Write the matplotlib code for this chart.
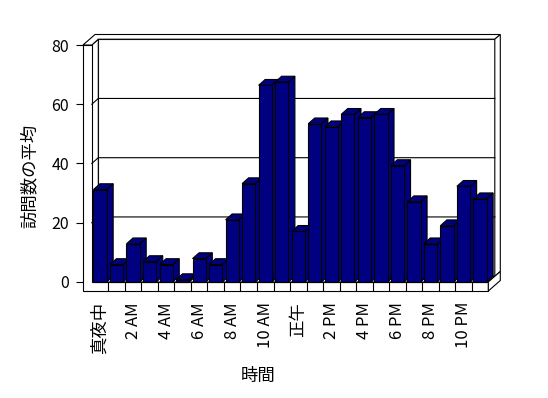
import matplotlib
matplotlib.use('Agg')
import matplotlib.pyplot as plt
from matplotlib.patches import Polygon

plt.rcParams['font.family'] = ['Noto Sans CJK JP', 'DejaVu Sans']

# average visits per hour of day
hours = ['真夜中', '1 AM', '2 AM', '3 AM', '4 AM', '5 AM', '6 AM', '7 AM',
         '8 AM', '9 AM', '10 AM', '11 AM', '正午', '1 PM', '2 PM', '3 PM',
         '4 PM', '5 PM', '6 PM', '7 PM', '8 PM', '9 PM', '10 PM', '11 PM']
visits = [31.2, 5.9, 12.9, 6.9, 5.9, 0.8, 7.9, 5.9, 21.0, 33.2, 66.4, 67.5,
          17.1, 53.4, 52.4, 56.6, 55.5, 56.6, 39.3, 27.1, 12.9, 19.0, 32.3, 28.1]
yticks = [0, 20, 40, 60, 80]

W, H = 548, 398
fig = plt.figure(figsize=(W / 100, H / 100), dpi=100)
ax = fig.add_axes([83 / W, 107 / H, 405.3 / W, 246 / H])

n = len(hours)
x_left = -0.5 - 8.8 / 16.52   # outer edge of the left wall
y_floor = -3.04               # bottom of the floor slab
ymax = 80
ax.set_xlim(x_left, n - 0.5)
ax.set_ylim(y_floor, ymax)
for s in ax.spines.values():
    s.set_visible(False)

# pixel -> data conversion for the depth offsets
sx = 405.3 / (n - 0.5 - x_left)
sy = 246 / (ymax - y_floor)
dx1, dy1 = 6.5 / sx, 5.8 / sy     # inner face of back wall
dx2, dy2 = 12.0 / sx, 10.5 / sy   # outer face of back wall

lw = 0.8
wall = dict(facecolor='white', edgecolor='black', lw=lw, clip_on=False, zorder=1)
xl, xr = -0.5, n - 0.5

# back wall inner face
ax.add_patch(Polygon([(xl + dx1, dy1), (xr + dx1, dy1), (xr + dx1, ymax + dy1),
                      (xl + dx1, ymax + dy1)], **wall))
# left wall inner face
ax.add_patch(Polygon([(xl, 0), (xl + dx1, dy1), (xl + dx1, ymax + dy1), (xl, ymax)], **wall))
# floor top
ax.add_patch(Polygon([(xl, 0), (xr, 0), (xr + dx1, dy1), (xl + dx1, dy1)], **wall))
# left wall + floor front face
ax.add_patch(Polygon([(x_left, y_floor), (xr, y_floor), (xr, 0), (xl, 0), (xl, ymax),
                      (x_left, ymax)], **wall))
# wall tops
ax.add_patch(Polygon([(x_left, ymax), (xl, ymax), (xl + dx1, ymax + dy1), (xr + dx1, ymax + dy1),
                      (xr + dx2, ymax + dy2), (x_left + dx2, ymax + dy2)], **wall))
# right ends of back wall and floor
ax.add_patch(Polygon([(xr + dx1, dy1), (xr + dx1, ymax + dy1), (xr + dx2, ymax + dy2),
                      (xr + dx2, dy2)], **wall))
ax.add_patch(Polygon([(xr, y_floor), (xr, 0), (xr + dx2, dy2), (xr + dx2, y_floor + dy2)], **wall))

# gridlines on the walls
for v in yticks[1:-1]:
    ax.plot([xl, xl + dx1, xr + dx1], [v, v + dy1, v + dy1], color='black', lw=lw,
            zorder=1.5, clip_on=False)
# category marks on the floor front
for k in range(1, n):
    ax.plot([k - 0.5, k - 0.5], [y_floor, 0], color='black', lw=lw, zorder=1.5)

# 3-D bars: side, top, then front, left to right
bw = 0.8
navy = '#000080'
for i, v in enumerate(visits):
    z = 3 + i * 0.01
    a, b = i - bw / 2, i + bw / 2
    ax.add_patch(Polygon([(b, 0), (b + dx1, dy1), (b + dx1, v + dy1), (b, v)],
                         facecolor=navy, edgecolor='black', lw=lw, zorder=z, clip_on=False))
    ax.add_patch(Polygon([(a, v), (b, v), (b + dx1, v + dy1), (a + dx1, v + dy1)],
                         facecolor=navy, edgecolor='black', lw=lw, zorder=z, clip_on=False))
    ax.bar(i, v, width=bw, color=navy, edgecolor='black', lw=lw, zorder=z + 0.005)

ax.set_yticks(yticks)
ax.tick_params(axis='y', length=5, width=lw, pad=5, labelsize=11.5)
ax.set_xticks(range(0, n, 2))
ax.set_xticklabels(hours[::2], rotation=90)
ax.tick_params(axis='x', length=0, pad=8, labelsize=12)
for t in ax.get_xticklabels():
    if t.get_text() in ('真夜中', '正午'):
        t.set_fontsize(12.5)

fig.text(30 / W, 1 - 176 / H, '訪問数の平均', rotation=90, ha='center', va='center', fontsize=12.5)
fig.text(258 / W, 1 - 376 / H, '時間', ha='center', va='center', fontsize=12.5)

fig.savefig('out.png', dpi=100)
